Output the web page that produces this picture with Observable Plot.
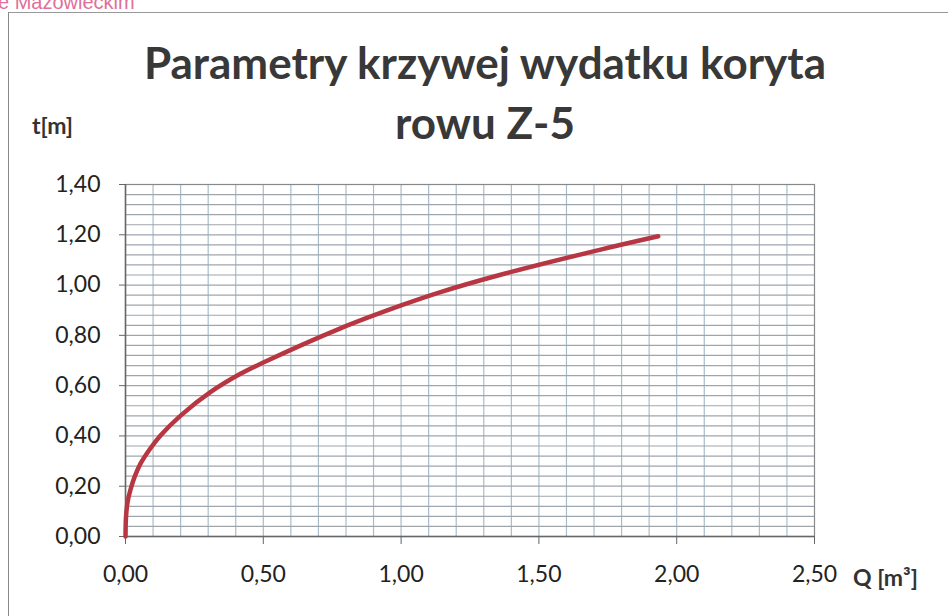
<!DOCTYPE html>
<html>
<head>
<meta charset="utf-8">
<script src="https://cdn.jsdelivr.net/npm/d3@7"></script>
<script src="https://cdn.jsdelivr.net/npm/@observablehq/plot@0.6"></script>
<style>
  html, body { margin: 0; padding: 0; background: #fff; }
  #wrap { position: relative; width: 948px; height: 616px; overflow: hidden; }
  #chart { position: absolute; left: 0; top: 0; }
  .t { position: absolute; font-family: Lato, "Open Sans", sans-serif; color: #333; white-space: nowrap; }
  #title { left: 0; width: 970px; top: 32px; text-align: center; font-weight: bold; font-size: 44px; line-height: 60px; color: #383838; }
  #ylab { left: 32px; top: 111px; font-weight: bold; font-size: 23px; }
  #xlab { left: 853px; top: 563px; font-weight: bold; font-size: 23px; }
  #stamp { left: -2px; top: -9px; font-family: "Liberation Sans", Arial, sans-serif; font-size: 20px; color: #e0709a; }
  #border { position: absolute; left: 8px; top: 12px; width: 960px; height: 640px; border-left: 1.5px solid #888; border-top: 1.5px solid #999; }
</style>
</head>
<body>
<div id="wrap">
  <div id="border"></div>
  <div id="chart"></div>
  <div class="t" id="stamp">e Mazowieckim</div>
  <div class="t" id="title">Parametry krzywej wydatku koryta<br>rowu Z-5</div>
  <div class="t" id="ylab">t[m]</div>
  <div class="t" id="xlab">Q [m³]</div>
</div>
<script>
// Discharge Q [m3] and depth t [m]
const Q = [0, 0.002, 0.008, 0.018, 0.034, 0.054, 0.090, 0.127, 0.200, 0.308, 0.417, 0.500, 0.780, 1.000, 1.143, 1.361, 1.724, 1.933];
const T = [0, 0.080, 0.140, 0.186, 0.240, 0.289, 0.350, 0.402, 0.481, 0.574, 0.647, 0.692, 0.828, 0.919, 0.972, 1.041, 1.141, 1.194];

const xTicks = [0, 0.5, 1.0, 1.5, 2.0, 2.5];
const yTicks = [0, 0.2, 0.4, 0.6, 0.8, 1.0, 1.2, 1.4];
const xGrid = [0.1, 0.2, 0.3, 0.4, 0.5, 0.6, 0.7, 0.8, 0.9, 1.0, 1.1, 1.2, 1.3, 1.4, 1.5, 1.6, 1.7, 1.8, 1.9, 2.0, 2.1, 2.2, 2.3, 2.4];
const yGrid = [0.04, 0.08, 0.12, 0.16, 0.2, 0.24, 0.28, 0.32, 0.36, 0.4, 0.44, 0.48, 0.52, 0.56, 0.6, 0.64, 0.68, 0.72, 0.76, 0.8, 0.84, 0.88, 0.92, 0.96, 1.0, 1.04, 1.08, 1.12, 1.16, 1.2, 1.24, 1.28, 1.32, 1.36];

const data = Q.map((q, i) => ({Q: q, t: T[i]}));
const fmt = d => d.toFixed(2).replace(".", ",");

const chart = Plot.plot({
  width: 948,
  height: 616,
  marginLeft: 125,
  marginRight: 134,
  marginTop: 184,
  marginBottom: 80,
  x: {domain: [0, 2.5]},
  y: {domain: [0, 1.4]},
  style: {background: "transparent", fontFamily: "Lato, 'Open Sans', sans-serif", fontSize: "23px", color: "#222"},
  marks: [
    Plot.gridX(xGrid, {stroke: "#a8bccb", strokeOpacity: 1, strokeWidth: 1.2}),
    Plot.gridY(yGrid, {stroke: "#9ea6ac", strokeOpacity: 1, strokeWidth: 1.2}),
    Plot.frame({stroke: "#888", strokeWidth: 1.2}),
    Plot.axisY(yTicks, {tickFormat: fmt, tickSize: 6, tickPadding: 19, label: null, stroke: "#666"}),
    Plot.axisX(xTicks, {tickFormat: fmt, tickSize: 8, tickPadding: 21, label: null, stroke: "#666"}),
    Plot.ruleX([0], {stroke: "#666", strokeWidth: 1.5}),
    Plot.ruleY([0], {stroke: "#666", strokeWidth: 1.5}),
    Plot.line(data, {x: "Q", y: "t", stroke: "#b83642", strokeWidth: 4.5, curve: "catmull-rom", strokeLinecap: "round"})
  ]
});
document.getElementById("chart").appendChild(chart);
</script>
</body>
</html>
